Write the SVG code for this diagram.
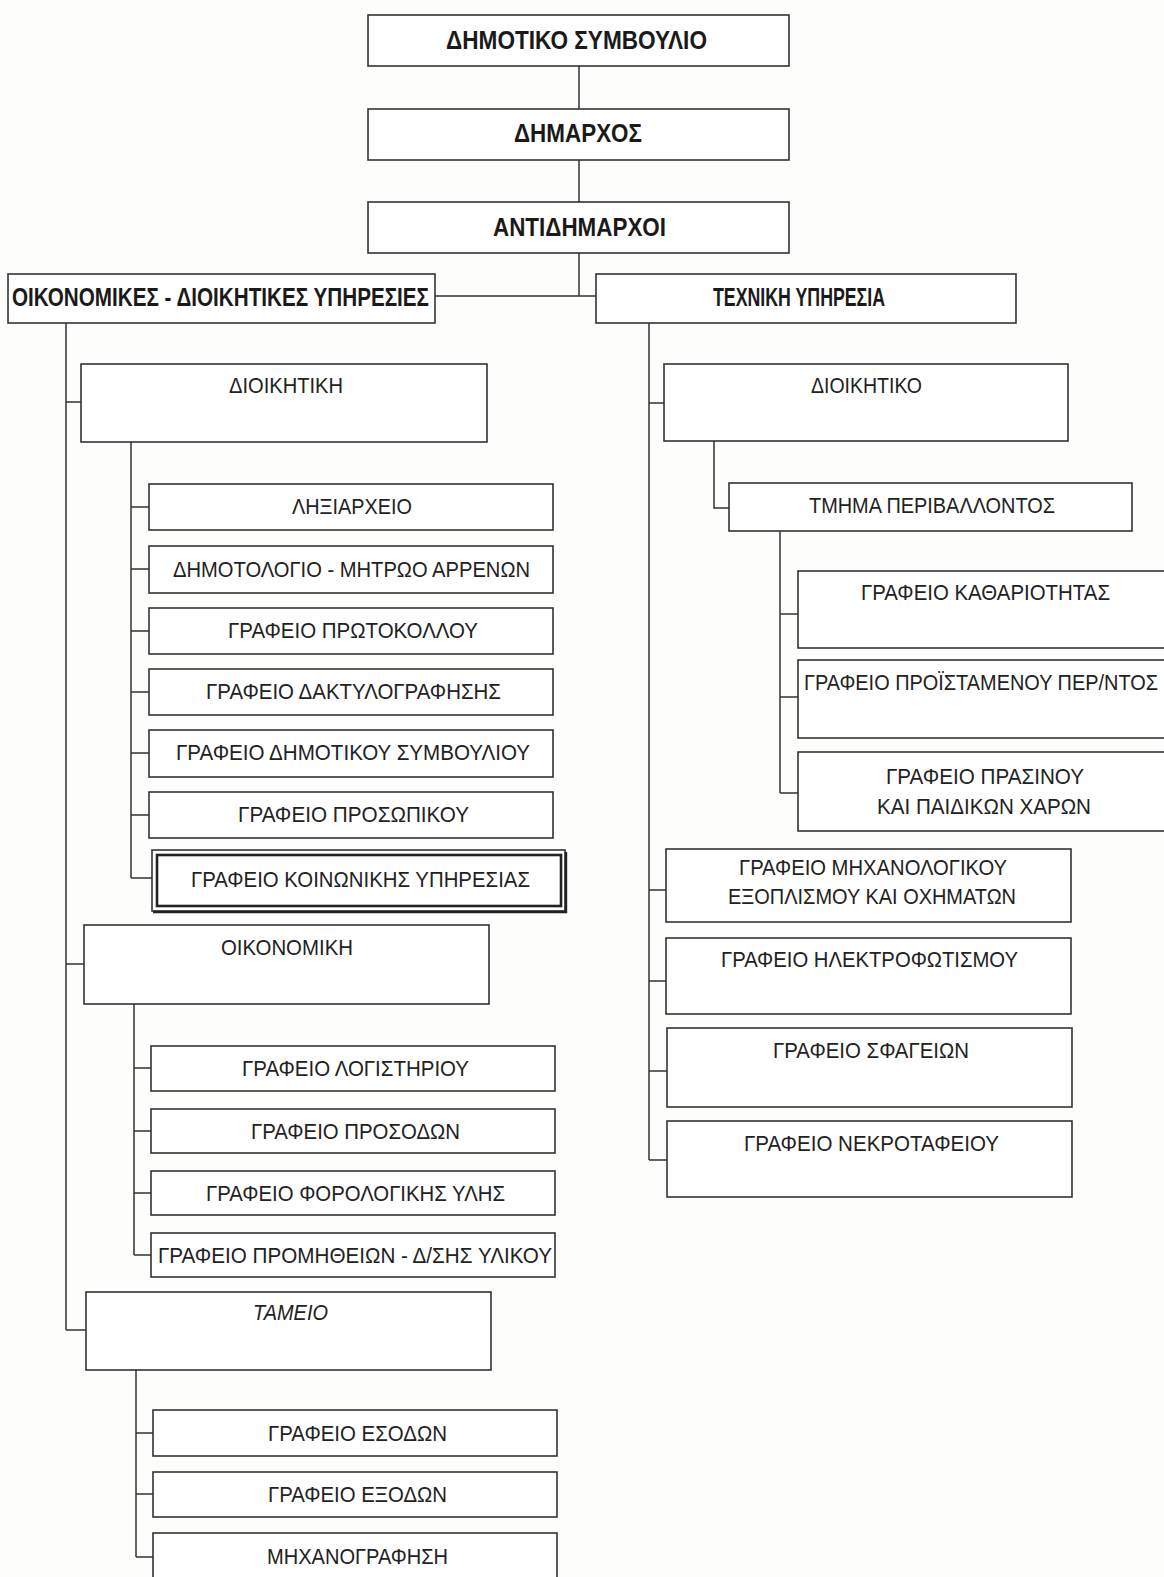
<svg xmlns="http://www.w3.org/2000/svg" width="1164" height="1577" viewBox="0 0 1164 1577">
<style>
.b{fill:#fff;stroke:#333;stroke-width:1.6}
.t{font-family:"Liberation Sans",Arial,sans-serif;font-size:22px;fill:#222}
.h{font-family:"Liberation Sans",Arial,sans-serif;font-size:26px;font-weight:bold;fill:#1a1a1a}
.c{fill:none;stroke:#333;stroke-width:1.5}
</style>
<rect width="1164" height="1577" fill="#fdfdfc"/>
<g id="connectors">
<path class="c" d="M579 66V109M579 160V202M579 253V296M435 296H596"/>
<path class="c" d="M66 323V1330M66 402H81M66 964H84M66 1330H86"/>
<path class="c" d="M131 442V878M131 507H149M131 569H149M131 631H149M131 692H149M131 753H149M131 815H149M131 878H152"/>
<path class="c" d="M134 1004V1255M134 1068H151M134 1131H151M134 1193H151M134 1255H151"/>
<path class="c" d="M136 1370V1557M136 1433H153M136 1494H153M136 1557H153"/>
<path class="c" d="M649 323V1160M649 403H664M649 890H666M649 981H666M649 1071H667M649 1160H667"/>
<path class="c" d="M714 441V508H729"/>
<path class="c" d="M780 531V793M780 614H798M780 697H798M780 793H798"/>
</g>
<g id="n1"><rect class="b" x="368" y="15" width="421" height="51"/><text class="h" x="446" y="49" textLength="261" lengthAdjust="spacingAndGlyphs">ΔΗΜΟΤΙΚΟ ΣΥΜΒΟΥΛΙΟ</text></g>
<g id="n2"><rect class="b" x="368" y="109" width="421" height="51"/><text class="h" x="514" y="142" textLength="128" lengthAdjust="spacingAndGlyphs">ΔΗΜΑΡΧΟΣ</text></g>
<g id="n3"><rect class="b" x="368" y="202" width="421" height="51"/><text class="h" x="493" y="236" textLength="173" lengthAdjust="spacingAndGlyphs">ΑΝΤΙΔΗΜΑΡΧΟΙ</text></g>
<g id="n4"><rect class="b" x="8" y="274" width="427" height="49"/><text class="h" x="12" y="306" textLength="417" lengthAdjust="spacingAndGlyphs">ΟΙΚΟΝΟΜΙΚΕΣ - ΔΙΟΙΚΗΤΙΚΕΣ ΥΠΗΡΕΣΙΕΣ</text></g>
<g id="n5"><rect class="b" x="596" y="274" width="420" height="49"/><text class="h" x="713" y="306" textLength="172" lengthAdjust="spacingAndGlyphs">ΤΕΧΝΙΚΗ ΥΠΗΡΕΣΙΑ</text></g>

<g id="n6"><rect class="b" x="81" y="364" width="406" height="78"/><text class="t" x="229" y="393" textLength="114" lengthAdjust="spacingAndGlyphs">ΔΙΟΙΚΗΤΙΚΗ</text></g>
<g id="n7"><rect class="b" x="149" y="484" width="404" height="46"/><text class="t" x="292" y="514" textLength="120" lengthAdjust="spacingAndGlyphs">ΛΗΞΙΑΡΧΕΙΟ</text></g>
<g id="n8"><rect class="b" x="149" y="546" width="404" height="47"/><text class="t" x="173" y="577" textLength="357" lengthAdjust="spacingAndGlyphs">ΔΗΜΟΤΟΛΟΓΙΟ - ΜΗΤΡΩΟ ΑΡΡΕΝΩΝ</text></g>
<g id="n9"><rect class="b" x="149" y="608" width="404" height="46"/><text class="t" x="228" y="638" textLength="250" lengthAdjust="spacingAndGlyphs">ΓΡΑΦΕΙΟ ΠΡΩΤΟΚΟΛΛΟΥ</text></g>
<g id="n10"><rect class="b" x="149" y="669" width="404" height="46"/><text class="t" x="206" y="699" textLength="295" lengthAdjust="spacingAndGlyphs">ΓΡΑΦΕΙΟ ΔΑΚΤΥΛΟΓΡΑΦΗΣΗΣ</text></g>
<g id="n11"><rect class="b" x="149" y="730" width="404" height="47"/><text class="t" x="176" y="760" textLength="354" lengthAdjust="spacingAndGlyphs">ΓΡΑΦΕΙΟ ΔΗΜΟΤΙΚΟΥ ΣΥΜΒΟΥΛΙΟΥ</text></g>
<g id="n12"><rect class="b" x="149" y="792" width="404" height="46"/><text class="t" x="238" y="822" textLength="231" lengthAdjust="spacingAndGlyphs">ΓΡΑΦΕΙΟ ΠΡΟΣΩΠΙΚΟΥ</text></g>
<g id="n13"><rect class="b" x="152" y="850" width="413" height="61" stroke-width="1.4"/><rect x="157" y="855" width="404" height="51" fill="none" stroke="#222" stroke-width="2.6"/><path d="M153 912H566V852" fill="none" stroke="#222" stroke-width="2.4"/><text class="t" x="191" y="887" textLength="339" lengthAdjust="spacingAndGlyphs">ΓΡΑΦΕΙΟ ΚΟΙΝΩΝΙΚΗΣ ΥΠΗΡΕΣΙΑΣ</text></g>

<g id="n14"><rect class="b" x="84" y="925" width="405" height="79"/><text class="t" x="221" y="955" textLength="132" lengthAdjust="spacingAndGlyphs">ΟΙΚΟΝΟΜΙΚΗ</text></g>
<g id="n15"><rect class="b" x="151" y="1046" width="404" height="45"/><text class="t" x="242" y="1076" textLength="227" lengthAdjust="spacingAndGlyphs">ΓΡΑΦΕΙΟ ΛΟΓΙΣΤΗΡΙΟΥ</text></g>
<g id="n16"><rect class="b" x="151" y="1109" width="404" height="44"/><text class="t" x="251" y="1139" textLength="209" lengthAdjust="spacingAndGlyphs">ΓΡΑΦΕΙΟ ΠΡΟΣΟΔΩΝ</text></g>
<g id="n17"><rect class="b" x="151" y="1171" width="404" height="44"/><text class="t" x="206" y="1201" textLength="299" lengthAdjust="spacingAndGlyphs">ΓΡΑΦΕΙΟ ΦΟΡΟΛΟΓΙΚΗΣ ΥΛΗΣ</text></g>
<g id="n18"><rect class="b" x="151" y="1233" width="404" height="44"/><text class="t" x="158" y="1263" textLength="394" lengthAdjust="spacingAndGlyphs">ΓΡΑΦΕΙΟ ΠΡΟΜΗΘΕΙΩΝ - Δ/ΣΗΣ ΥΛΙΚΟΥ</text></g>

<g id="n19"><rect class="b" x="86" y="1292" width="405" height="78"/><text class="t" x="253" y="1320" font-style="italic" textLength="75" lengthAdjust="spacingAndGlyphs">ΤΑΜΕΙΟ</text></g>
<g id="n20"><rect class="b" x="153" y="1410" width="404" height="46"/><text class="t" x="268" y="1441" textLength="179" lengthAdjust="spacingAndGlyphs">ΓΡΑΦΕΙΟ ΕΣΟΔΩΝ</text></g>
<g id="n21"><rect class="b" x="153" y="1472" width="404" height="45"/><text class="t" x="268" y="1502" textLength="179" lengthAdjust="spacingAndGlyphs">ΓΡΑΦΕΙΟ ΕΞΟΔΩΝ</text></g>
<g id="n22"><rect class="b" x="153" y="1533" width="404" height="60"/><text class="t" x="267" y="1564" textLength="181" lengthAdjust="spacingAndGlyphs">ΜΗΧΑΝΟΓΡΑΦΗΣΗ</text></g>

<g id="n23"><rect class="b" x="664" y="364" width="404" height="77"/><text class="t" x="811" y="393" textLength="111" lengthAdjust="spacingAndGlyphs">ΔΙΟΙΚΗΤΙΚΟ</text></g>
<g id="n24"><rect class="b" x="729" y="483" width="403" height="48"/><text class="t" x="809" y="513" textLength="246" lengthAdjust="spacingAndGlyphs">ΤΜΗΜΑ ΠΕΡΙΒΑΛΛΟΝΤΟΣ</text></g>
<g id="n25"><rect class="b" x="798" y="571" width="380" height="77"/><text class="t" x="861" y="600" textLength="249" lengthAdjust="spacingAndGlyphs">ΓΡΑΦΕΙΟ ΚΑΘΑΡΙΟΤΗΤΑΣ</text></g>
<g id="n26"><rect class="b" x="798" y="660" width="380" height="78"/><text class="t" x="804" y="690" textLength="354" lengthAdjust="spacingAndGlyphs">ΓΡΑΦΕΙΟ ΠΡΟΪΣΤΑΜΕΝΟΥ ΠΕΡ/ΝΤΟΣ</text></g>
<g id="n27"><rect class="b" x="798" y="752" width="380" height="79"/><text class="t" x="886" y="784" textLength="198" lengthAdjust="spacingAndGlyphs">ΓΡΑΦΕΙΟ ΠΡΑΣΙΝΟΥ</text><text class="t" x="877" y="814" textLength="214" lengthAdjust="spacingAndGlyphs">ΚΑΙ ΠΑΙΔΙΚΩΝ ΧΑΡΩΝ</text></g>
<g id="n28"><rect class="b" x="666" y="849" width="405" height="73"/><text class="t" x="739" y="875" textLength="268" lengthAdjust="spacingAndGlyphs">ΓΡΑΦΕΙΟ ΜΗΧΑΝΟΛΟΓΙΚΟΥ</text><text class="t" x="728" y="904" textLength="288" lengthAdjust="spacingAndGlyphs">ΕΞΟΠΛΙΣΜΟΥ ΚΑΙ ΟΧΗΜΑΤΩΝ</text></g>
<g id="n29"><rect class="b" x="666" y="938" width="405" height="76"/><text class="t" x="721" y="967" textLength="297" lengthAdjust="spacingAndGlyphs">ΓΡΑΦΕΙΟ ΗΛΕΚΤΡΟΦΩΤΙΣΜΟΥ</text></g>
<g id="n30"><rect class="b" x="667" y="1028" width="405" height="79"/><text class="t" x="773" y="1058" textLength="196" lengthAdjust="spacingAndGlyphs">ΓΡΑΦΕΙΟ ΣΦΑΓΕΙΩΝ</text></g>
<g id="n31"><rect class="b" x="667" y="1121" width="405" height="76"/><text class="t" x="744" y="1151" textLength="255" lengthAdjust="spacingAndGlyphs">ΓΡΑΦΕΙΟ ΝΕΚΡΟΤΑΦΕΙΟΥ</text></g>
</svg>
